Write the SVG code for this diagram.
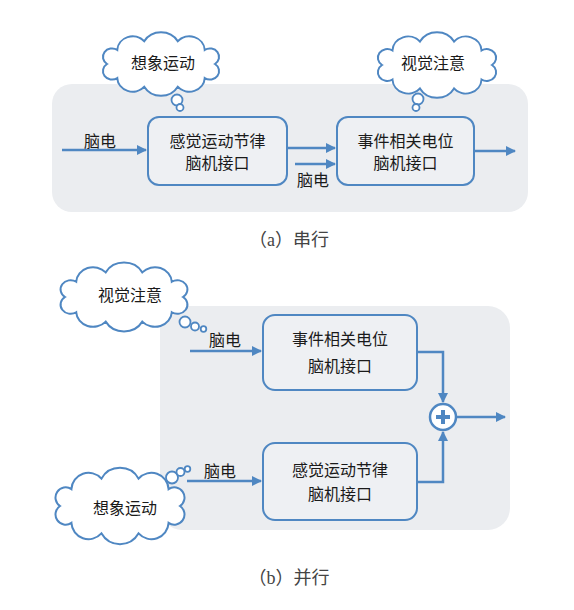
<svg xmlns="http://www.w3.org/2000/svg" width="574" height="610" viewBox="0 0 574 610">
<style>
.panel{fill:#ebedf0;stroke:none}
.box{fill:#eef0f3;stroke:#4f87c2;stroke-width:2}
.cloud{fill:#ffffff;stroke:#4f87c2;stroke-width:2}
.bub{fill:#ffffff;stroke:#4f87c2;stroke-width:1.8}
.ln{fill:none;stroke:#4f87c2;stroke-width:2.5}
.t{font-family:"Noto Sans CJK SC","Noto Sans",sans-serif;font-size:16px;fill:#1a1a1a;text-anchor:middle}
.cap{font-family:"Liberation Serif","Noto Sans CJK SC",serif;font-size:18px;fill:#444;text-anchor:middle}
</style>
<defs>
<marker id="ah" viewBox="0 0 10 10" refX="9" refY="5" markerWidth="4" markerHeight="4" orient="auto" markerUnits="strokeWidth">
<path d="M0,0 L10,5 L0,10 Z" fill="#4f87c2"/>
</marker>
<path id="cloudp" d="M50,0 A8.5,8.5 0 0 1 40.5,14.1 A14.3,14.3 0 0 1 15.5,22.8 A17.8,17.8 0 0 1 -15.5,22.8 A14.3,14.3 0 0 1 -40.5,14.1 A8.5,8.5 0 0 1 -50,0 A8.5,8.5 0 0 1 -40.5,-14.1 A14.3,14.3 0 0 1 -15.5,-22.8 A17.8,17.8 0 0 1 15.5,-22.8 A14.3,14.3 0 0 1 40.5,-14.1 A8.5,8.5 0 0 1 50,0 Z" vector-effect="non-scaling-stroke"/>
</defs>

<!-- panels -->
<rect class="panel" x="52" y="84" width="476" height="128" rx="20"/>
<rect class="panel" x="160" y="306" width="350" height="224" rx="22"/>

<!-- panel (a) nodes -->
<g id="cloud-a1">
<use href="#cloudp" class="cloud" transform="translate(161,64) scale(1.08,1.0)"/>
<circle class="bub" cx="177" cy="100" r="5.5"/>
<circle class="bub" cx="180" cy="107.5" r="3.5"/>
<text class="t" x="163" y="69">想象运动</text>
</g>
<g id="cloud-a2">
<use href="#cloudp" class="cloud" transform="translate(437,65) scale(1.1,1.03)"/>
<circle class="bub" cx="418" cy="99" r="5.5"/>
<circle class="bub" cx="416" cy="107.5" r="3.5"/>
<text class="t" x="433" y="69">视觉注意</text>
</g>
<g id="box-a1">
<rect class="box" x="148" y="117" width="139" height="68" rx="11"/>
<text class="t" x="217.5" y="147">感觉运动节律</text>
<text class="t" x="217.5" y="169">脑机接口</text>
</g>
<g id="box-a2">
<rect class="box" x="337" y="117" width="137" height="68" rx="11"/>
<text class="t" x="405.5" y="147">事件相关电位</text>
<text class="t" x="405.5" y="169">脑机接口</text>
</g>

<!-- panel (b) nodes -->
<g id="cloud-b1">
<use href="#cloudp" class="cloud" transform="translate(124,297) scale(1.18,1.08)"/>
<circle class="bub" cx="185" cy="322" r="5.5"/>
<circle class="bub" cx="195" cy="326.5" r="4"/>
<circle class="bub" cx="203.5" cy="329" r="2.8"/>
<text class="t" x="130" y="301">视觉注意</text>
</g>
<g id="cloud-b2">
<use href="#cloudp" class="cloud" transform="translate(120,506) scale(1.2,1.2)"/>
<circle class="bub" cx="172" cy="477.5" r="6"/>
<circle class="bub" cx="180.5" cy="472" r="4"/>
<circle class="bub" cx="187.5" cy="469" r="2.8"/>
<text class="t" x="125" y="514">想象运动</text>
</g>
<g id="box-b1">
<rect class="box" x="263" y="315" width="154" height="75" rx="12"/>
<text class="t" x="340" y="345">事件相关电位</text>
<text class="t" x="340" y="372">脑机接口</text>
</g>
<g id="box-b2">
<rect class="box" x="263" y="443" width="154" height="77" rx="12"/>
<text class="t" x="340" y="476">感觉运动节律</text>
<text class="t" x="340" y="500">脑机接口</text>
</g>
<g id="sum">
<circle cx="443" cy="417" r="13" fill="#ffffff" stroke="#4f87c2" stroke-width="2.5"/>
<path d="M443,410 V424 M436,417 H450" stroke="#4f87c2" stroke-width="4" fill="none"/>
</g>

<!-- connectors -->
<g id="connectors">
<path class="ln" d="M62,150 H146" marker-end="url(#ah)"/>
<text class="t" x="100" y="147">脑电</text>
<path class="ln" d="M287,148 H335" marker-end="url(#ah)"/>
<path class="ln" d="M295,164 H335" marker-end="url(#ah)"/>
<text class="t" x="313" y="186">脑电</text>
<path class="ln" d="M474,151 H515" marker-end="url(#ah)"/>

<path class="ln" d="M190,351 H261" marker-end="url(#ah)"/>
<text class="t" x="225" y="346">脑电</text>
<path class="ln" d="M187,481 H261" marker-end="url(#ah)"/>
<text class="t" x="220" y="477">脑电</text>
<path class="ln" d="M417,352 H443 V402" marker-end="url(#ah)"/>
<path class="ln" d="M417,482 H443 V432" marker-end="url(#ah)"/>
<path class="ln" d="M456,417 H505" marker-end="url(#ah)"/>
</g>

<!-- captions -->
<text class="cap" x="289" y="246">（a）串行</text>
<text class="cap" x="289" y="584">（b）并行</text>
</svg>
